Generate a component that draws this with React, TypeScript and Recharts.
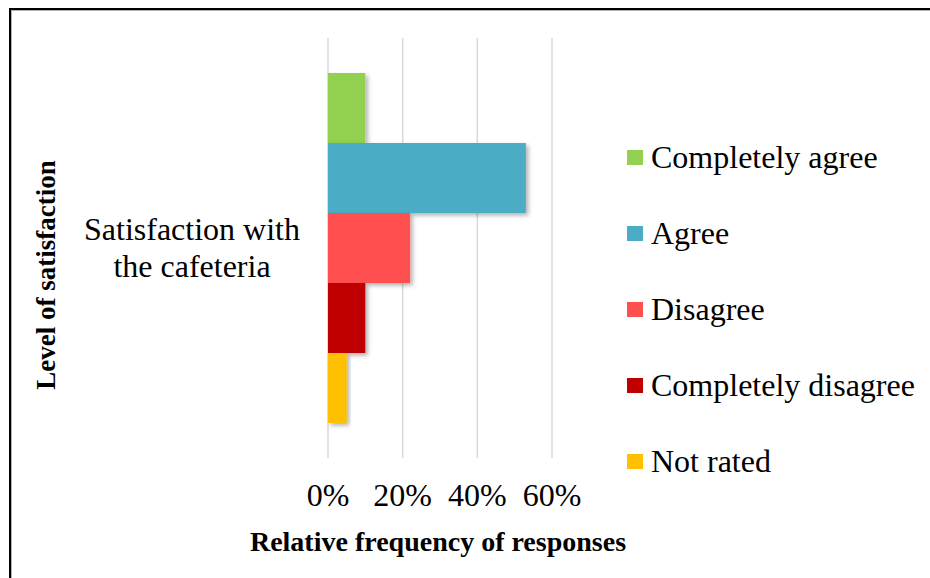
import React from "react";
import { BarChart, Bar, XAxis, YAxis, CartesianGrid, Rectangle, Label } from "recharts";

const categories = ["Satisfaction with the cafeteria"];
const categoryLines = [["Satisfaction with", "the cafeteria"]];
const seriesNames = ["Completely agree", "Agree", "Disagree", "Completely disagree", "Not rated"];
const seriesKeys = ["completelyAgree", "agree", "disagree", "completelyDisagree", "notRated"];
const seriesColors = ["#92D050", "#4BACC6", "#FF5050", "#C00000", "#FFC000"];

const completelyAgree = [0.1];
const agree = [0.53];
const disagree = [0.22];
const completelyDisagree = [0.1];
const notRated = [0.05];

const xTicks = [0, 0.2, 0.4, 0.6];

const data = categories.map((name, i) => ({
  name,
  completelyAgree: completelyAgree[i],
  agree: agree[i],
  disagree: disagree[i],
  completelyDisagree: completelyDisagree[i],
  notRated: notRated[i],
}));

const FONT = '"Liberation Serif", "Times New Roman", serif';

function CategoryTick(props: any) {
  const { x, y, payload } = props;
  const idx = categories.indexOf(payload.value);
  const lines = idx >= 0 ? categoryLines[idx] : [payload.value];
  const cx = x - 136;
  return (
    <text x={cx} y={y} textAnchor="middle" fontFamily={FONT} fontSize={32} fill="#000">
      {lines.map((l: string, i: number) => (
        <tspan key={i} x={cx} dy={i === 0 ? -8 : 37}>
          {l}
        </tspan>
      ))}
    </text>
  );
}

function ShadowBar(props: any) {
  return <Rectangle {...props} filter="url(#barShadow)" />;
}

export default function App() {
  return (
    <div style={{ position: "absolute", left: 0, top: 0, width: 930, height: 578, background: "#fff", overflow: "hidden" }}>
      <div
        style={{
          position: "absolute",
          left: 9,
          top: 8,
          width: 930,
          height: 600,
          borderTop: "2px solid #000",
          borderLeft: "2px solid #000",
          boxShadow: "inset 1px 1px 0 #b0b0b0",
        }}
      />
      <div style={{ position: "absolute", left: 0, top: 0 }}>
        <BarChart
          width={930}
          height={578}
          data={data}
          layout="vertical"
          margin={{ top: 38, right: 378, left: 20, bottom: 0 }}
          barCategoryGap={35}
          barGap={0}
        >
          <defs>
            <filter id="barShadow" x="-20%" y="-20%" width="140%" height="140%">
              <feDropShadow dx="2.5" dy="2.5" stdDeviation="2" floodColor="#000" floodOpacity="0.3" />
            </filter>
          </defs>
          <CartesianGrid horizontal={false} stroke="#d9d9d9" strokeWidth={1.5} />
          <XAxis
            type="number"
            domain={[0, 0.6]}
            ticks={xTicks}
            tickFormatter={(v: number) => `${Math.round(v * 100)}%`}
            axisLine={false}
            tickLine={false}
            tickSize={0}
            tickMargin={25}
            height={120}
            tick={{ fontFamily: FONT, fontSize: 32, fill: "#000" }}
            interval={0}
          >
            <Label
              content={(p: any) => {
                const vb = p.viewBox;
                return (
                  <text
                    x={vb.x + vb.width / 2 - 2}
                    y={vb.y + 93}
                    textAnchor="middle"
                    fontFamily={FONT}
                    fontWeight="bold"
                    fontSize={28}
                    fill="#000"
                  >
                    Relative frequency of responses
                  </text>
                );
              }}
            />
          </XAxis>
          <YAxis
            type="category"
            dataKey="name"
            width={308}
            axisLine={false}
            tickLine={false}
            tickSize={0}
            tickMargin={0}
            tick={<CategoryTick />}
          >
            <Label
              content={(p: any) => {
                const vb = p.viewBox;
                const lx = vb.x + 26;
                const ly = vb.y + vb.height / 2 + 27;
                return (
                  <text
                    x={lx}
                    y={ly}
                    transform={`rotate(-90 ${lx} ${ly})`}
                    textAnchor="middle"
                    dominantBaseline="central"
                    fontFamily={FONT}
                    fontWeight="bold"
                    fontSize={27}
                    fill="#000"
                  >
                    Level of satisfaction
                  </text>
                );
              }}
            />
          </YAxis>
          {seriesKeys.map((k, i) => (
            <Bar
              key={k}
              dataKey={k}
              name={seriesNames[i]}
              fill={seriesColors[i]}
              isAnimationActive={false}
              shape={<ShadowBar />}
            />
          ))}
        </BarChart>
      </div>
      <div style={{ position: "absolute", left: 627, top: 119, width: 300 }}>
        {seriesNames.map((n, i) => (
          <div key={n} style={{ height: 76, display: "flex", alignItems: "center" }}>
            <span style={{ width: 16, height: 15, background: seriesColors[i], marginRight: 8, flex: "none" }} />
            <span style={{ fontFamily: FONT, fontSize: 32, lineHeight: 1, color: "#000", whiteSpace: "nowrap" }}>{n}</span>
          </div>
        ))}
      </div>
    </div>
  );
}
